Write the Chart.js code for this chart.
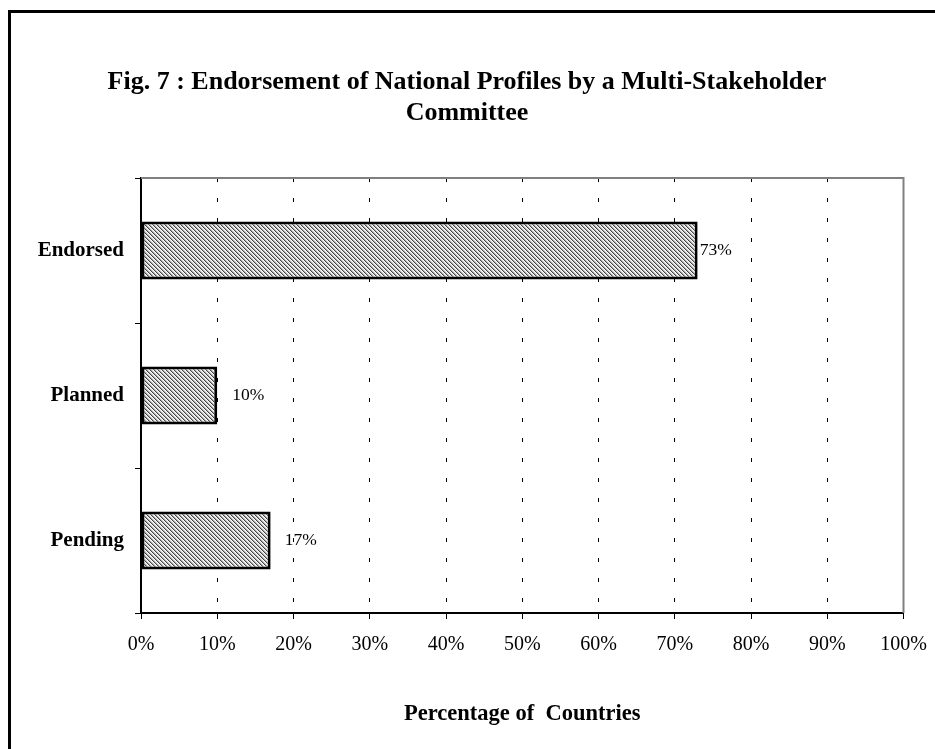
<!DOCTYPE html>
<html>
<head>
<meta charset="utf-8">
<script src="https://cdn.jsdelivr.net/npm/chart.js@4/dist/chart.umd.min.js"></script>
<style>
  html, body { margin: 0; padding: 0; background: #fff; }
  #wrap { width: 935px; height: 749px; }
</style>
</head>
<body>
<div id="wrap"><canvas id="chart" width="935" height="749"></canvas></div>
<script>
// data
let categories = ["Endorsed", "Planned", "Pending"];
let values = [73, 10, 17];
let tickValues = [0, 10, 20, 30, 40, 50, 60, 70, 80, 90, 100];

const SERIF = "'Liberation Serif', 'Times New Roman', serif";

// hatch fill like the old excel pattern
function makePattern() {
  let c = document.createElement("canvas");
  c.width = 4; c.height = 4;
  let g = c.getContext("2d");
  g.fillStyle = "#fff";
  g.fillRect(0, 0, 4, 4);
  for (let y = 0; y < 4; y++) {
    for (let x = 0; x < 4; x++) {
      let d = ((x - y) % 4 + 4) % 4;
      if (d === 0) { g.fillStyle = "#444"; g.fillRect(x, y, 1, 1); }
      if (d === 1) { g.fillStyle = "#aaa"; g.fillRect(x, y, 1, 1); }
      if (d === 2) { g.fillStyle = "#e0e0e0"; g.fillRect(x, y, 1, 1); }
    }
  }
  return g.createPattern(c, "repeat");
}

// frame: outer black border + grey plot box top/right
const framePlugin = {
  id: "frame",
  beforeDraw(chart) {
    let ctx = chart.ctx;
    ctx.save();
    ctx.fillStyle = "#fff";
    ctx.fillRect(0, 0, chart.width, chart.height);
    ctx.fillStyle = "#000";
    ctx.fillRect(8, 10, 3, chart.height - 10);
    ctx.fillRect(8, 10, chart.width - 8, 3);
    ctx.restore();
  },
  afterDatasetsDraw(chart) {
    let a = chart.chartArea, ctx = chart.ctx;
    ctx.save();
    ctx.strokeStyle = "#808080";
    ctx.lineWidth = 2;
    ctx.beginPath();
    ctx.moveTo(a.left, a.top);
    ctx.lineTo(a.right, a.top);
    ctx.lineTo(a.right, a.bottom);
    ctx.stroke();
    ctx.restore();
  }
};

// value labels to the right of each bar
const labelPlugin = {
  id: "valueLabels",
  afterDatasetsDraw(chart, args, opts) {
    let ctx = chart.ctx;
    let meta = chart.getDatasetMeta(0);
    ctx.save();
    ctx.font = "17.5px " + SERIF;
    ctx.fillStyle = "#000";
    ctx.textBaseline = "middle";
    ctx.textAlign = "left";
    meta.data.forEach((bar, i) => {
      let off = opts.offsets[i] || 4;
      ctx.fillText(values[i] + "%", bar.x + off, bar.y);
    });
    ctx.restore();
  }
};

new Chart(document.getElementById("chart"), {
  type: "bar",
  data: {
    labels: categories,
    datasets: [{
      data: values,
      backgroundColor: makePattern(),
      borderColor: "#000",
      borderWidth: 3,
      borderSkipped: false,
      barPercentage: 0.4,
      categoryPercentage: 1
    }]
  },
  options: {
    indexAxis: "y",
    responsive: false,
    animation: false,
    layout: { padding: { left: 30.5, right: 31.5, top: 0, bottom: 20 } },
    plugins: {
      legend: { display: false },
      tooltip: { enabled: false },
      title: {
        display: true,
        text: ["Fig. 7 : Endorsement of National Profiles by a Multi-Stakeholder", "Committee"],
        color: "#000",
        font: { family: SERIF, size: 26, weight: "bold", lineHeight: 1.2 },
        padding: { top: 66.4, bottom: 49.2 }
      },
      valueLabels: { offsets: [2, 15, 14] }
    },
    scales: {
      x: {
        min: 0,
        max: 100,
        afterBuildTicks: s => { s.ticks = tickValues.map(v => ({ value: v })); },
        afterFit: s => {
          s.height = 749 - 613 - 20;
          s.paddingLeft = 0;
          s.paddingRight = 0;
        },
        ticks: {
          color: "#000",
          padding: 14,
          maxRotation: 0,
          font: { family: SERIF, size: 20 },
          callback: v => v + "%"
        },
        grid: {
          color: ctx => (ctx.index === 0 || ctx.index === tickValues.length - 1) ? "rgba(0,0,0,0)" : "#000",
          lineWidth: 1,
          drawTicks: true,
          tickColor: "#000",
          tickLength: 6,
          tickWidth: 1,
          tickBorderDash: [],
          tickBorderDashOffset: 0
        },
        border: { display: true, color: "#000", width: 2, dash: [4, 16] },
        title: {
          display: true,
          text: "Percentage of  Countries",
          color: "#000",
          font: { family: SERIF, size: 22.5, weight: "bold" },
          padding: { top: 0, bottom: 1 }
        }
      },
      y: {
        afterFit: s => { s.width = 141 - 30.5; },
        ticks: {
          color: "#000",
          padding: 11,
          font: { family: SERIF, size: 21, weight: "bold" }
        },
        grid: {
          offset: true,
          drawOnChartArea: false,
          color: "#000",
          tickLength: 6,
          tickWidth: 1
        },
        border: { display: true, color: "#000", width: 2 }
      }
    }
  },
  plugins: [framePlugin, labelPlugin]
});
</script>
</body>
</html>
